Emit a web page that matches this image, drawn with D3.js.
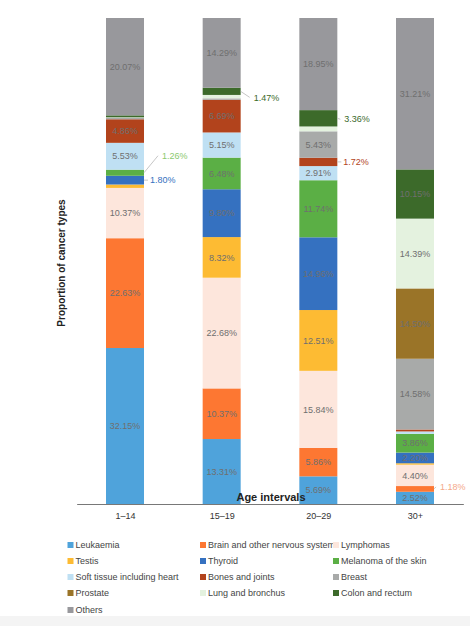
<!DOCTYPE html>
<html><head><meta charset="utf-8">
<script src="https://cdn.jsdelivr.net/npm/d3@7"></script>
<style>
html,body{margin:0;padding:0;background:#fff;}
text{font-family:"Liberation Sans",Arial,Helvetica,sans-serif;}
</style></head>
<body>
<svg id="chart" width="470" height="626"></svg>
<script>
const categories = ["1–14", "15–19", "20–29", "30+"];
const seriesNames = ["Leukaemia","Brain and other nervous system","Lymphomas","Testis","Thyroid","Melanoma of the skin","Soft tissue including heart","Bones and joints","Breast","Prostate","Lung and bronchus","Colon and rectum","Others"];
const leukaemia  = [32.15, 13.31, 5.69, 2.52];
const brain      = [22.63, 10.37, 5.86, 1.18];
const lymphomas  = [10.37, 22.68, 15.84, 4.40];
const testis     = [0.70, 8.32, 12.51, 0.30];
const thyroid    = [1.80, 9.80, 14.96, 2.20];
const melanoma   = [1.26, 6.48, 11.74, 3.86];
const softTissue = [5.53, 5.15, 2.91, 0.50];
const bones      = [4.86, 6.69, 1.72, 0.40];
const breast     = [0.30, 0.30, 5.43, 14.58];
const prostate   = [0.00, 0.00, 0.00, 14.50];
const lung       = [0.10, 0.70, 1.00, 14.39];
const colon      = [0.40, 1.47, 3.36, 10.15];
const others     = [20.07, 14.29, 18.95, 31.21];
const seriesValues = [leukaemia, brain, lymphomas, testis, thyroid, melanoma, softTissue, bones, breast, prostate, lung, colon, others];
const colors = ["#4fa3db","#fd7732","#fde6dc","#fdbb33","#3571c0","#5baf45","#bfe0f3","#b2431c","#a8aaa9","#9a7428","#e4f2df","#3c6a2a","#98989c"];
// labels drawn outside the bar: [series index, bar index]
const outsideLabels = [[5,0],[4,0],[11,1],[11,2],[7,2],[1,3]];
const outsideColors = ["#8cc96e","#3571c0","#3c6a2a","#3c6a2a","#b2431c","#f4a98a"];

const svg = d3.select("#chart");
const rows = categories.map((c,i) => {
  const r = {cat: c};
  seriesNames.forEach((s,j) => r[s] = seriesValues[j][i]);
  return r;
});
const stack = d3.stack().keys(seriesNames).offset(d3.stackOffsetExpand);
const stacked = stack(rows);

const x = d3.scalePoint().domain(categories).range([76.67, 463.33]).padding(0.5);
const y = d3.scaleLinear().domain([0,1]).range([504, 18]);
const bw = 38;

const g = svg.append("g");
stacked.forEach((layer, si) => {
  g.append("g").selectAll("rect").data(layer).join("rect")
    .attr("x", d => x(d.data.cat) - bw/2)
    .attr("y", d => y(d[1]))
    .attr("width", bw)
    .attr("height", d => Math.max(0, y(d[0]) - y(d[1])))
    .attr("fill", colors[si]);
});

// inside labels
const isOutside = (si, bi) => outsideLabels.some(o => o[0]===si && o[1]===bi);
stacked.forEach((layer, si) => {
  layer.forEach((d, bi) => {
    const v = seriesValues[si][bi];
    if (v < 2.15 || isOutside(si, bi)) return;
    g.append("text")
      .attr("x", x(d.data.cat))
      .attr("y", (y(d[0]) + y(d[1]))/2 + 3.2)
      .attr("text-anchor","middle")
      .attr("font-size", 9)
      .attr("fill", "#6f6f6f")
      .text(v.toFixed(2) + "%");
  });
});

// outside labels with leader lines
const outsideOffsets = [[18,-17],[5,0],[13,6],[7,1],[5,0],[6,-2]];
outsideLabels.forEach((o, k) => {
  const [si, bi] = o;
  const d = stacked[si][bi];
  const xe = x(categories[bi]) + bw/2;
  const ym = (y(d[0]) + y(d[1]))/2;
  const [dx, dy] = outsideOffsets[k];
  const ty = ym + dy;
  if (dx > 5) {
    g.append("path")
      .attr("d", `M${xe},${ym} L${xe + dx - 4},${ty}`)
      .attr("stroke", "#b8b8b8").attr("stroke-width", 0.8).attr("fill","none");
  } else {
    g.append("path")
      .attr("d", `M${xe},${ym} L${xe + 4},${ym}`)
      .attr("stroke", "#b8b8b8").attr("stroke-width", 0.8);
  }
  g.append("text")
    .attr("x", xe + dx + (dx > 5 ? 0 : 1))
    .attr("y", ty + 3.2)
    .attr("font-size", 9)
    .attr("fill", outsideColors[k])
    .text(seriesValues[si][bi].toFixed(2) + "%");
});

// x axis
const ax = svg.append("g").attr("transform","translate(0,504)")
  .call(d3.axisBottom(x).tickSize(0).tickPadding(9));
ax.select(".domain").attr("stroke","#555").attr("stroke-width",0.8);
ax.selectAll("text").attr("font-size", 9).attr("fill","#333")
  .attr("font-family","Liberation Sans, Arial, sans-serif");

svg.append("text").attr("x", 271).attr("y", 501).attr("text-anchor","middle")
  .attr("font-size", 11).attr("font-weight","bold").attr("fill","#222").text("Age intervals");
svg.append("text").attr("transform","translate(65,263) rotate(-90)").attr("text-anchor","middle")
  .attr("font-size", 10).attr("font-weight","bold").attr("fill","#222").text("Proportion of cancer types");

// legend
const legCols = [70, 202.5, 335.5];
const legRows = [545, 561, 577, 593, 610];
const leg = svg.append("g");
seriesNames.forEach((s, i) => {
  const cx = legCols[i % 3], cy = legRows[Math.floor(i/3)];
  leg.append("rect").attr("x", cx - 2.5).attr("y", cy - 3).attr("width", 6).attr("height", 6).attr("fill", colors[i]);
  leg.append("text").attr("x", cx + 5.5).attr("y", cy + 3.3).attr("font-size", 9).attr("fill","#444").text(s);
});
svg.append("rect").attr("x",0).attr("y",616).attr("width",470).attr("height",10).attr("fill","#f4f4f4");
</script>
</body></html>
